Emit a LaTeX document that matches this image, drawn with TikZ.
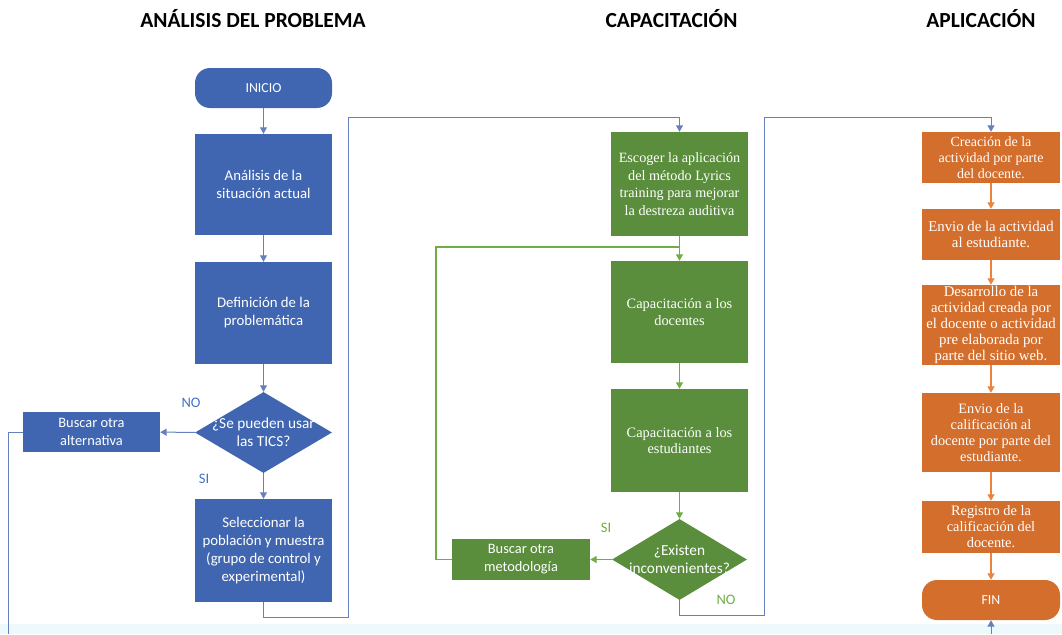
\documentclass[tikz,border=0pt]{standalone}
\usepackage{fontspec}
\setmainfont{Carlito}
\newfontfamily\serifbox{Liberation Serif}
\usetikzlibrary{shapes.geometric,arrows.meta}
\definecolor{bbox}{RGB}{64,102,177}
\definecolor{gbox}{RGB}{90,142,60}
\definecolor{obox}{RGB}{212,110,44}
\definecolor{bline}{RGB}{100,128,190}
\definecolor{gline}{RGB}{112,173,71}
\definecolor{oline}{RGB}{236,130,60}
\definecolor{blabel}{RGB}{68,114,196}
\definecolor{band}{RGB}{238,249,252}
\tikzset{
  box/.style={rectangle, text=white, align=center, inner sep=0pt},
  bluebox/.style={box, fill=bbox, minimum width=137pt, font=\fontsize{14.8}{18}\selectfont},
  greenbox/.style={box, fill=gbox, minimum width=137pt, font=\serifbox\fontsize{14.4}{16.5}\selectfont},
  orangebox/.style={box, fill=obox, minimum width=138pt},
  ofont/.style={font=\serifbox\fontsize{#1}{16}\selectfont},
  decision/.style={diamond, inner sep=0pt, draw=none},
  dtext/.style={text=white, align=center, inner sep=0pt, font=\fontsize{15.3}{18}\selectfont},
  header/.style={font=\bfseries\fontsize{21.5}{24}\selectfont, text=black},
  lbl/.style={font=\fontsize{14.5}{16}\selectfont, inner sep=0pt},
  tip/.style={-{Triangle[length=6.5pt,width=7pt]}},
  bl/.style={draw=bline, line width=1pt},
  gl/.style={draw=gline, line width=1.3pt},
  ol/.style={draw=oline, line width=1.3pt},
}
\begin{document}
\begin{tikzpicture}[x=1pt,y=-1pt]
\useasboundingbox (0,0) rectangle (1062,634);
\fill[band] (0,624) rectangle (1062,634);

% headers
\node[header] (h1) at (253,19) {ANÁLISIS DEL PROBLEMA};
\node[header] (h2) at (671.5,19) {CAPACITACIÓN};
\node[header] (h3) at (981,19) {APLICACIÓN};

% left column
\node[bluebox, minimum height=40pt, rounded corners=15pt, font=\fontsize{13.8}{16}\selectfont] (inicio) at (263.5,88) {INICIO};
\node[bluebox, minimum height=101pt] (ana) at (263.5,184.5) {Análisis de la\\situación actual};
\node[bluebox, minimum height=102pt] (def) at (263.5,313) {Definición de la\\problemática};
\node[decision, fill=bbox, minimum width=137pt, minimum height=81pt] (d1) at (263.5,432.5) {};
\node[dtext] (d1t) at (263.5,432.5) {¿Se pueden usar\\las TICS?};
\node[bluebox, minimum height=40pt, font=\fontsize{14.4}{18}\selectfont] (alt) at (91.5,432) {Buscar otra\\alternativa};
\node[bluebox, minimum height=103pt] (sel) at (263.5,550.5) {Seleccionar la\\población y muestra\\(grupo de control y\\experimental)};
\node[lbl, text=blabel] (no1) at (191,403) {NO};
\node[lbl, text=blabel] (si1) at (204,479) {SI};

% middle column
\node[greenbox, minimum height=104pt, font=\serifbox\fontsize{14.2}{17.5}\selectfont] (esc) at (679.5,184) {Escoger la aplicación\\del método Lyrics\\training para mejorar\\la destreza auditiva};
\node[greenbox, minimum height=102pt] (cd) at (679.5,312) {Capacitación a los\\docentes};
\node[greenbox, minimum height=103pt] (ce) at (679.5,440.5) {Capacitación a los\\estudiantes};
\node[decision, fill=gbox, minimum width=135pt, minimum height=81pt] (d2) at (679.5,559.5) {};
\node[dtext] (d2t) at (679.5,559.5) {¿Existen\\inconvenientes?};
\node[box, fill=gbox, minimum width=138pt, minimum height=41pt, font=\fontsize{14.4}{18}\selectfont] (met) at (521,559.5) {Buscar otra\\metodología};
\node[lbl, text=gline] (si2) at (606,528) {SI};
\node[lbl, text=gline] (no2) at (726,600) {NO};

% right column
\node[orangebox, ofont=14, minimum height=51pt] (cre) at (991,157.5) {Creación de la\\actividad por parte\\del docente.};
\node[orangebox, ofont=14.8, minimum height=51pt] (env) at (991,234.5) {Envio de la actividad\\al estudiante.};
\node[orangebox, ofont=14.8, minimum height=80pt] (des) at (991,325) {Desarrollo de la\\actividad creada por\\el docente o actividad\\pre elaborada por\\parte del sitio web.};
\node[orangebox, ofont=14.3, minimum height=79pt] (cal) at (991,432.5) {Envio de la\\calificación al\\docente por parte del\\estudiante.};
\node[orangebox, ofont=14.4, minimum height=52pt] (reg) at (991,527) {Registro de la\\calificación del\\docente.};
\node[box, fill=obox, minimum width=138pt, minimum height=40pt, rounded corners=15pt, font=\fontsize{13.8}{16}\selectfont] (fin) at (991,600) {FIN};

% coordinates
\coordinate (a1) at (8,432);
\coordinate (a2) at (8,634);
\coordinate (c1) at (348,617);
\coordinate (c2) at (348,117);
\coordinate (g1) at (436,247);
\coordinate (g2) at (679.5,247);
\coordinate (e1) at (764,615);
\coordinate (e2) at (764,117);
\coordinate (f1) at (991,634);

% left connectors
\draw[bl, tip] (inicio) -- (ana);
\draw[bl, tip] (ana) -- (def);
\draw[bl, tip] (def) -- (d1);
\draw[bl, tip] (d1) -- (sel);
\draw[bl, tip] (d1) -- (alt);
\draw[bl] (alt.west) -- (a1) -- (a2);
\draw[bl, tip] (sel.south) |- (c1) -- (c2) -| (esc.north);

% middle connectors
\draw[gl, tip] (esc) -- (cd);
\draw[gl, tip] (cd) -- (ce);
\draw[gl, tip] (ce) -- (d2);
\draw[gl, tip] (d2) -- (met);
\draw[gl] (met.west) -| (g1) -- (g2);
\draw[bl, tip] (d2.south) |- (e1) -- (e2) -| (cre.north);

% right connectors
\draw[ol, tip] (cre) -- (env);
\draw[ol, tip] (env) -- (des);
\draw[ol, tip] (des) -- (cal);
\draw[ol, tip] (cal) -- (reg);
\draw[ol, tip] (reg) -- (fin);
\draw[bl, tip] (f1) -- (fin.south);
\end{tikzpicture}
\end{document}
